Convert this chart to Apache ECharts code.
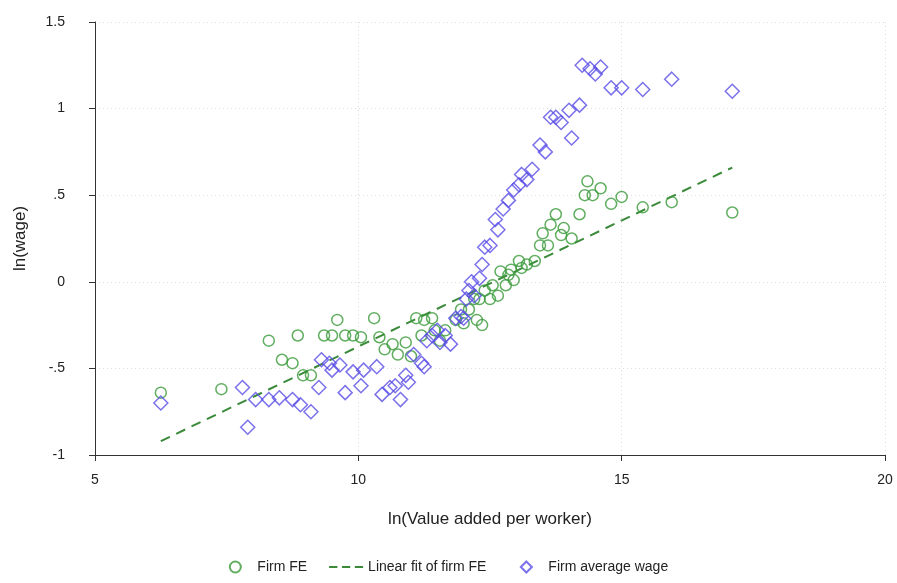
<!DOCTYPE html><html><head><meta charset="utf-8"><script src="https://cdn.jsdelivr.net/npm/echarts@6/dist/echarts.min.js"></script></head><body style="margin:0;background:#fff"><div id="c" style="width:897px;height:583px"></div><script>
const firmFE = [[6.25,-0.64],[7.4,-0.62],[8.3,-0.34],[8.55,-0.45],[8.85,-0.31],[8.75,-0.47],[8.95,-0.54],[9.1,-0.54],[9.35,-0.31],[9.5,-0.31],[9.6,-0.22],[9.75,-0.31],[9.9,-0.31],[10.05,-0.32],[10.3,-0.21],[10.4,-0.32],[10.5,-0.39],[10.65,-0.36],[10.75,-0.42],[10.9,-0.35],[11.0,-0.43],[11.1,-0.21],[11.2,-0.31],[11.25,-0.22],[11.4,-0.21],[11.45,-0.28],[11.55,-0.34],[11.65,-0.28],[11.85,-0.22],[11.95,-0.16],[12.0,-0.24],[12.1,-0.16],[12.2,-0.1],[12.25,-0.22],[12.3,-0.1],[12.35,-0.25],[12.4,-0.05],[12.5,-0.1],[12.55,-0.02],[12.65,-0.08],[12.7,0.06],[12.8,-0.02],[12.85,0.04],[12.9,0.07],[12.95,0.01],[13.05,0.12],[13.1,0.08],[13.2,0.1],[13.35,0.12],[13.45,0.21],[13.5,0.28],[13.6,0.21],[13.65,0.33],[13.75,0.39],[13.85,0.27],[13.9,0.31],[14.05,0.25],[14.2,0.39],[14.3,0.5],[14.35,0.58],[14.45,0.5],[14.6,0.54],[14.8,0.45],[15.0,0.49],[15.4,0.43],[15.95,0.46],[17.1,0.4]];
const avgWage = [[6.25,-0.7],[7.9,-0.84],[7.8,-0.61],[8.05,-0.68],[8.3,-0.68],[8.5,-0.67],[8.75,-0.68],[8.9,-0.71],[9.1,-0.75],[9.25,-0.61],[9.3,-0.45],[9.45,-0.47],[9.5,-0.51],[9.65,-0.48],[9.75,-0.64],[9.9,-0.52],[10.05,-0.6],[10.1,-0.51],[10.35,-0.49],[10.45,-0.65],[10.6,-0.61],[10.7,-0.6],[10.8,-0.68],[10.9,-0.54],[10.95,-0.58],[11.05,-0.42],[11.2,-0.47],[11.25,-0.49],[11.3,-0.34],[11.4,-0.31],[11.5,-0.28],[11.55,-0.35],[11.65,-0.31],[11.75,-0.36],[11.85,-0.21],[11.95,-0.2],[12.0,-0.21],[12.05,-0.1],[12.1,-0.05],[12.15,0],[12.2,-0.08],[12.3,0.02],[12.35,0.1],[12.4,0.2],[12.5,0.21],[12.6,0.36],[12.65,0.3],[12.75,0.42],[12.85,0.47],[12.95,0.53],[13.05,0.56],[13.1,0.62],[13.2,0.59],[13.3,0.65],[13.45,0.79],[13.55,0.75],[13.65,0.95],[13.75,0.95],[13.85,0.92],[14.0,0.99],[14.05,0.83],[14.2,1.02],[14.25,1.25],[14.4,1.23],[14.5,1.2],[14.6,1.24],[14.8,1.12],[15.0,1.12],[15.4,1.11],[15.95,1.17],[17.1,1.1]];
const fitX = [6.25, 17.1];
const fitIntercept = -1.83, fitSlope = 0.1456;
const fitLine = fitX.map(x => [x, fitIntercept + fitSlope * x]);
const yTickLabels = {'1.5':'1.5','1':'1','0.5':'.5','0':'0','-0.5':'-.5','-1':'-1'};
const F = 'Arial, "Liberation Sans", sans-serif';
const grid = {show:true, lineStyle:{color:'#dcdcdc', type:[1,3], width:1}};
echarts.init(document.getElementById('c')).setOption({
  animation:false,
  grid:{left:95, right:12, top:22, bottom:128},
  legend:{bottom:4, itemGap:22, itemWidth:34, itemHeight:11, textStyle:{fontFamily:F, fontSize:14, color:'#222'},
    data:[{name:'Firm FE', icon:'circle'},
      {name:'Linear fit of firm FE', icon:'path://M0,0h9v2h-9zM14,0h9v2h-9zM28,0h9v2h-9z', itemStyle:{color:'#3a8a3a'}},
      {name:'Firm average wage', icon:'path://M0,5.5h0.01M17,0L22.5,5.5L17,11L11.5,5.5ZM34,5.5h0.01'}]},
  xAxis:{type:'value', min:5, max:20, interval:5, name:'ln(Value added per worker)', nameLocation:'middle', nameGap:56,
    nameTextStyle:{fontFamily:F, fontSize:17, color:'#222'},
    axisLine:{onZero:false, lineStyle:{color:'#333'}}, axisTick:{show:true, length:6, lineStyle:{color:'#333'}},
    axisLabel:{fontFamily:F, fontSize:14, color:'#222', margin:18}, splitLine:grid},
  yAxis:{type:'value', min:-1, max:1.5, interval:0.5, name:'ln(wage)', nameLocation:'middle', nameGap:66,
    nameTextStyle:{fontFamily:F, fontSize:17, color:'#222'},
    axisLine:{show:true, onZero:false, lineStyle:{color:'#333'}}, axisTick:{show:true, length:6, lineStyle:{color:'#333'}},
    axisLabel:{fontFamily:F, fontSize:14, color:'#222', margin:30, formatter:v=>yTickLabels[String(v)]||v}, splitLine:grid},
  series:[
    {name:'Firm FE', type:'scatter', symbol:'circle', symbolSize:11, data:firmFE,
      itemStyle:{color:'rgba(0,0,0,0)', borderColor:'#3a9a3a', borderWidth:1.5}},
    {name:'Linear fit of firm FE', type:'line', data:fitLine, symbol:'none', z:1,
      lineStyle:{color:'#3a8a3a', width:2, type:[10,7]}, itemStyle:{color:'#3a8a3a'}},
    {name:'Firm average wage', type:'scatter', symbol:'diamond', symbolSize:14, data:avgWage,
      itemStyle:{color:'rgba(0,0,0,0)', borderColor:'#5a4ee6', borderWidth:1.5}}
  ]
});
</script></body></html>
